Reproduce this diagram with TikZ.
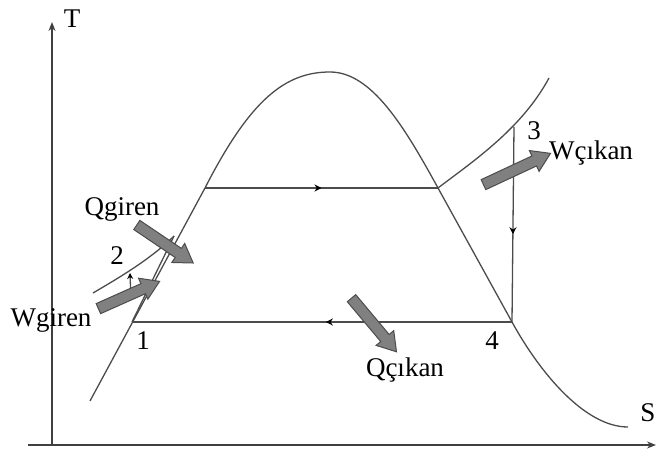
\documentclass[tikz,border=0pt]{standalone}
\usepackage{fontspec}
\setmainfont{Liberation Serif}
\usetikzlibrary{arrows.meta,decorations.markings}
\newcommand\blockarr[3]{%
  \begin{scope}[shift={#1},rotate=#2]
    \draw[barr] ({-#3/2},-5.5)--({#3/2-18},-5.5)--({#3/2-18},-11.5)--({#3/2},0)--({#3/2-18},11.5)--({#3/2-18},5.5)--({-#3/2},5.5)--cycle;
  \end{scope}}
\tikzset{
  curve/.style={draw=black!70,line width=1.3pt},
  axis/.style={draw=black!75,line width=1.4pt},
  barr/.style={draw=black!70,fill=black!50,line width=1pt,line join=miter},
  lbl/.style={font=\fontsize{27}{27}\selectfont,inner sep=0pt},
  midarr/.style={postaction={decorate},decoration={markings,mark=at position #1 with {\arrow[black]{Stealth[length=7pt,width=7pt]}}}}
}
\begin{document}
\begin{tikzpicture}[x=1pt,y=-1pt]
\useasboundingbox (0,0) rectangle (657,454);
% axes
\coordinate (o) at (52,445);
\coordinate (ty) at (52,22);
\coordinate (sl) at (28,445);
\coordinate (sx) at (656,445);
\draw[axis,-{Stealth[length=9pt,width=7pt]}] (o) -- (ty);
\draw[axis,-{Stealth[length=9pt,width=7pt]}] (sl) -- (sx);
\node[lbl] (T) at (72,19) {T};
\node[lbl] (S) at (648,413) {S};
% key points
\coordinate (d0) at (90,401);
\coordinate (a) at (205,188);
\coordinate (top) at (330,72);
\coordinate (b) at (438,188);
\coordinate (p1) at (132,322);
\coordinate (p2) at (130,273);
\coordinate (p3) at (514,127);
\coordinate (p4) at (512,322);
\coordinate (dE) at (628,427);
\coordinate (sh) at (549,78);
\coordinate (iso0) at (93,293);
\coordinate (m) at (174,236);
% saturation dome
\draw[curve] (d0) -- (a) .. controls (250,100) and (285,72) .. (top)
  .. controls (372,72) and (405,128) .. (b) -- (p4)
  .. controls (540,373) and (585,427) .. (dE);
% superheated isobar
\draw[curve] (b) .. controls (475,160) and (522,128) .. (sh);
% compressed-liquid isobar
\draw[curve] (iso0) .. controls (115,280) and (150,260) .. (m);
\draw[curve] (p1) -- (m);
% pump 1-2
\draw[curve,-{Stealth[black,length=6pt,width=6pt]}] (131,300) -- (p2);
% cycle lines
\draw[curve,midarr=0.5] (a) -- (b);
\draw[curve,midarr=0.55] (p3) -- (p4);
\draw[curve,midarr=0.49] (p4) -- (p1);
% block arrows
\blockarr{(165,244)}{-34}{68}
\blockarr{(129,295)}{24}{67}
\blockarr{(517,169)}{25}{74}
\blockarr{(374,325)}{-50}{70}
% labels
\node[lbl] (Qg) at (122,209) {Qgiren};
\node[lbl] (Wg) at (51,320) {Wgiren};
\node[lbl] (Wc) at (591,153) {Wçıkan};
\node[lbl] (Qc) at (405,370) {Qçıkan};
\node[lbl] (n1) at (143,341) {1};
\node[lbl] (n2) at (117,256) {2};
\node[lbl] (n3) at (534,131) {3};
\node[lbl] (n4) at (492,341) {4};
\end{tikzpicture}
\end{document}
